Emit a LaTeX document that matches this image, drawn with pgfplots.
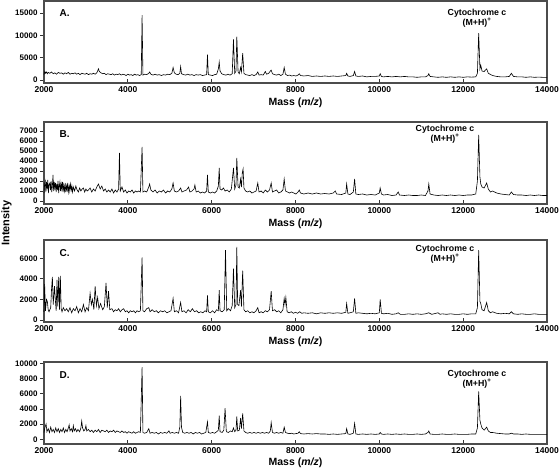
\documentclass[border=0pt]{standalone}
\usepackage{pgfplots}
\pgfplotsset{compat=1.18}
\usepackage{pgfplotstable}
\usepackage{fontspec}
\setmainfont{Liberation Sans}

\pgfplotstableread[row sep=\\]{
x y\\
2000 1200\\ 2020 1900\\ 2040 1500\\ 2060 1800\\ 2080 1400\\ 2100 1700\\ 2140 1500\\ 2180 1800\\ 2220 1400\\ 2260 1600\\
2300 1300\\ 2340 1700\\ 2380 1500\\ 2420 1600\\ 2460 1300\\ 2500 1600\\ 2540 1400\\ 2580 1700\\ 2620 1300\\ 2660 1500\\
2700 1400\\ 2740 1600\\ 2780 1300\\ 2820 1500\\ 2860 1200\\ 2900 1500\\ 2940 1400\\ 2980 1300\\ 3020 1500\\ 3060 1200\\
3100 1400\\ 3140 1300\\ 3180 1500\\ 3220 1300\\ 3260 1600\\ 3300 2500\\ 3320 1900\\ 3360 1600\\ 3400 1400\\ 3440 1500\\
3480 1200\\ 3520 1400\\ 3560 1300\\ 3600 1200\\ 3640 1400\\ 3680 1100\\ 3720 1300\\ 3760 1200\\ 3800 1400\\ 3840 1100\\
3880 1300\\ 3920 1200\\ 3960 1000\\ 4000 1300\\ 4040 1100\\ 4080 1200\\ 4120 1000\\ 4160 1300\\ 4200 1100\\ 4240 1200\\
4280 1000\\ 4320 1200\\ 4340 14500\\ 4360 1100\\ 4400 1300\\ 4450 1200\\ 4500 1500\\ 4520 1800\\ 4550 1300\\ 4600 1100\\
4650 1300\\ 4700 1100\\ 4750 1200\\ 4800 1000\\ 4850 1200\\ 4900 1100\\ 4950 1300\\ 5000 1200\\ 5050 1500\\ 5080 2800\\
5110 1600\\ 5150 1300\\ 5200 1200\\ 5240 1500\\ 5260 3000\\ 5280 1400\\ 5330 1200\\ 5380 1100\\ 5430 1300\\ 5480 1100\\
5530 1200\\ 5580 1000\\ 5630 1200\\ 5680 1100\\ 5730 1200\\ 5780 1000\\ 5830 1100\\ 5880 1200\\ 5900 5700\\ 5920 1200\\
5970 1100\\ 6020 1000\\ 6070 1200\\ 6120 1300\\ 6160 2500\\ 6180 4000\\ 6200 2000\\ 6240 1400\\ 6290 1200\\ 6340 1100\\
6390 1300\\ 6440 1100\\ 6490 1400\\ 6520 9100\\ 6550 1500\\ 6580 2000\\ 6600 9700\\ 6630 1800\\ 6660 1400\\ 6690 2800\\
6710 1800\\ 6740 6000\\ 6770 1500\\ 6810 1200\\ 6860 1100\\ 6910 1000\\ 6960 1200\\ 7010 1000\\ 7060 1200\\ 7100 1800\\
7130 1100\\ 7180 1200\\ 7230 1100\\ 7280 1900\\ 7310 1300\\ 7360 1500\\ 7400 2000\\ 7420 2200\\ 7450 1400\\ 7500 1200\\
7550 1100\\ 7600 1300\\ 7650 1000\\ 7700 1300\\ 7730 2800\\ 7760 1300\\ 7810 1000\\ 7860 1100\\ 7910 900\\ 7960 1000\\
8010 900\\ 8060 1100\\ 8090 1400\\ 8120 1000\\ 8200 900\\ 8300 1000\\ 8400 800\\ 8500 900\\ 8600 800\\ 8700 900\\
8800 800\\ 8900 900\\ 9000 800\\ 9100 900\\ 9200 1000\\ 9220 1500\\ 9250 900\\ 9300 800\\ 9380 1000\\ 9410 1900\\
9440 900\\ 9500 800\\ 9600 900\\ 9700 700\\ 9800 800\\ 9900 800\\ 10000 900\\ 10020 1400\\ 10050 800\\ 10100 700\\
10200 800\\ 10300 700\\ 10400 800\\ 10500 700\\ 10600 800\\ 10700 700\\ 10800 700\\ 10900 600\\ 11000 700\\ 11100 700\\
11160 1000\\ 11180 1400\\ 11210 800\\ 11300 700\\ 11400 600\\ 11500 700\\ 11600 600\\ 11700 700\\ 11800 600\\ 11900 700\\
12000 600\\ 12100 700\\ 12200 650\\ 12300 700\\ 12340 1500\\ 12370 10500\\ 12400 2500\\ 12420 3300\\ 12450 2000\\ 12500 1900\\
12560 2500\\ 12600 1500\\ 12700 1000\\ 12800 800\\ 12900 700\\ 13000 700\\ 13100 800\\ 13150 1500\\ 13200 800\\ 13300 700\\
13400 700\\ 13500 600\\ 13600 700\\ 13700 600\\ 13800 650\\ 13900 600\\ 14000 600\\
}\dataA

\pgfplotstableread[row sep=\\]{
x y\\
2000 800\\ 2015 1700\\ 2030 2000\\ 2045 900\\ 2060 1900\\ 2075 1200\\ 2090 2100\\ 2105 800\\ 2120 1600\\ 2140 1800\\
2155 1100\\ 2170 2000\\ 2185 900\\ 2200 1500\\ 2215 2600\\ 2230 1000\\ 2245 1900\\ 2260 1300\\ 2275 1800\\ 2290 900\\
2305 1700\\ 2320 1100\\ 2335 2000\\ 2350 800\\ 2365 1500\\ 2380 1900\\ 2395 1000\\ 2410 1700\\ 2425 1200\\ 2440 1900\\
2455 900\\ 2470 1600\\ 2490 1000\\ 2505 1800\\ 2520 900\\ 2535 1500\\ 2550 1100\\ 2565 1800\\ 2580 900\\ 2600 1500\\
2615 1000\\ 2630 1700\\ 2650 1100\\ 2665 1500\\ 2680 900\\ 2700 1400\\ 2730 1000\\ 2760 1500\\ 2790 1100\\ 2820 900\\
2850 1300\\ 2880 1000\\ 2910 1200\\ 2940 1300\\ 2970 900\\ 3000 1200\\ 3030 1000\\ 3060 1100\\ 3100 1300\\ 3140 900\\
3180 1200\\ 3220 1000\\ 3260 1400\\ 3300 1700\\ 3340 1200\\ 3380 1500\\ 3420 1000\\ 3460 1200\\ 3500 900\\ 3540 1100\\
3580 900\\ 3620 1200\\ 3660 800\\ 3700 1100\\ 3740 900\\ 3780 1200\\ 3800 4800\\ 3820 1000\\ 3860 1400\\ 3900 900\\
3940 1100\\ 3980 800\\ 4020 1000\\ 4060 900\\ 4100 1100\\ 4140 800\\ 4180 1000\\ 4220 900\\ 4260 1000\\ 4300 900\\
4340 5400\\ 4360 900\\ 4400 1000\\ 4450 900\\ 4500 1400\\ 4520 1700\\ 4550 1100\\ 4600 900\\ 4650 1100\\ 4700 800\\
4750 1000\\ 4800 900\\ 4850 1100\\ 4900 800\\ 4950 1000\\ 5000 900\\ 5050 1200\\ 5080 1800\\ 5110 1000\\ 5160 900\\
5210 1000\\ 5260 1300\\ 5290 900\\ 5340 1000\\ 5400 1100\\ 5450 1400\\ 5480 900\\ 5530 1000\\ 5580 1200\\ 5600 1600\\
5630 900\\ 5680 1000\\ 5730 800\\ 5780 900\\ 5830 800\\ 5880 1000\\ 5900 2600\\ 5920 900\\ 5970 800\\ 6020 900\\
6070 800\\ 6120 1000\\ 6160 1500\\ 6180 3300\\ 6200 1200\\ 6240 1100\\ 6280 1300\\ 6320 1000\\ 6370 1100\\ 6420 900\\
6470 1200\\ 6520 3300\\ 6550 1200\\ 6580 1600\\ 6600 4300\\ 6630 1400\\ 6660 1300\\ 6690 2200\\ 6710 1400\\ 6730 2800\\
6750 3200\\ 6770 1300\\ 6810 1000\\ 6860 900\\ 6910 1000\\ 6960 800\\ 7010 900\\ 7060 1000\\ 7100 1800\\ 7130 900\\
7180 1000\\ 7230 800\\ 7280 1100\\ 7330 900\\ 7380 1100\\ 7420 1800\\ 7450 900\\ 7500 1000\\ 7550 1100\\ 7600 800\\
7650 900\\ 7700 1100\\ 7730 2200\\ 7760 1000\\ 7810 900\\ 7860 800\\ 7910 900\\ 7960 800\\ 8010 700\\ 8060 900\\
8090 1100\\ 8120 800\\ 8200 700\\ 8300 800\\ 8400 700\\ 8500 800\\ 8600 700\\ 8700 750\\ 8800 700\\ 8900 800\\
8950 1000\\ 8980 700\\ 9100 650\\ 9200 800\\ 9220 1700\\ 9250 700\\ 9300 650\\ 9380 900\\ 9410 2200\\ 9440 700\\
9500 650\\ 9600 700\\ 9700 600\\ 9800 650\\ 9900 600\\ 10000 800\\ 10020 1300\\ 10050 700\\ 10100 600\\ 10200 650\\
10300 550\\ 10400 600\\ 10450 900\\ 10480 600\\ 10600 550\\ 10700 600\\ 10800 550\\ 10900 550\\ 11000 600\\ 11100 550\\
11160 1000\\ 11180 1700\\ 11210 700\\ 11300 600\\ 11400 550\\ 11500 600\\ 11600 550\\ 11700 600\\ 11800 550\\ 11900 600\\
12000 550\\ 12100 600\\ 12200 600\\ 12300 700\\ 12340 2000\\ 12370 6600\\ 12400 2400\\ 12420 1700\\ 12450 1400\\ 12500 1300\\
12560 1800\\ 12600 1200\\ 12650 900\\ 12700 1000\\ 12800 800\\ 12900 700\\ 13000 650\\ 13100 600\\ 13150 900\\ 13200 650\\
13300 600\\ 13400 600\\ 13500 550\\ 13600 600\\ 13700 550\\ 13800 600\\ 13900 550\\ 14000 550\\
}\dataB

\pgfplotstableread[row sep=\\]{
x y\\
2000 800\\ 2015 3500\\ 2035 900\\ 2060 2000\\ 2080 1800\\ 2100 1000\\ 2120 800\\ 2160 1200\\ 2180 3000\\ 2200 4200\\
2220 1500\\ 2250 3300\\ 2270 2000\\ 2290 900\\ 2310 3900\\ 2330 1300\\ 2350 4200\\ 2370 1000\\ 2390 4300\\ 2410 1100\\
2430 800\\ 2460 1200\\ 2500 900\\ 2540 1100\\ 2580 800\\ 2620 1200\\ 2660 700\\ 2700 1100\\ 2740 900\\ 2780 1300\\
2820 700\\ 2860 1100\\ 2900 800\\ 2940 1500\\ 2980 800\\ 3020 1200\\ 3060 900\\ 3100 2600\\ 3130 1500\\ 3160 2000\\
3190 1000\\ 3220 3300\\ 3250 1400\\ 3280 2200\\ 3310 1100\\ 3350 1600\\ 3400 1000\\ 3440 1300\\ 3480 3600\\ 3510 1200\\
3540 2800\\ 3570 1000\\ 3620 1100\\ 3660 800\\ 3700 1000\\ 3740 900\\ 3780 1100\\ 3820 800\\ 3860 1000\\ 3900 1100\\
3940 800\\ 3980 900\\ 4020 700\\ 4060 900\\ 4100 800\\ 4140 900\\ 4180 700\\ 4220 900\\ 4260 800\\ 4300 900\\
4340 6100\\ 4360 900\\ 4400 800\\ 4450 1100\\ 4500 1200\\ 4530 800\\ 4580 1000\\ 4630 800\\ 4680 900\\ 4730 700\\
4780 900\\ 4830 800\\ 4880 900\\ 4930 700\\ 4980 800\\ 5030 900\\ 5080 2100\\ 5110 800\\ 5160 900\\ 5210 700\\
5260 1700\\ 5290 800\\ 5340 900\\ 5390 700\\ 5440 1000\\ 5490 800\\ 5540 1100\\ 5590 800\\ 5640 900\\ 5690 700\\
5740 800\\ 5790 700\\ 5840 900\\ 5880 800\\ 5900 2400\\ 5920 800\\ 5970 700\\ 6020 900\\ 6070 700\\ 6120 1000\\
6160 900\\ 6180 2900\\ 6200 900\\ 6250 800\\ 6300 1000\\ 6330 6800\\ 6360 900\\ 6400 1100\\ 6450 900\\ 6490 1400\\
6520 5000\\ 6550 1200\\ 6580 1500\\ 6600 7100\\ 6620 1500\\ 6650 1400\\ 6690 2900\\ 6710 1300\\ 6740 4800\\ 6770 1000\\
6810 800\\ 6860 900\\ 6910 700\\ 6960 800\\ 7010 700\\ 7060 900\\ 7100 1200\\ 7130 700\\ 7180 800\\ 7230 700\\
7280 900\\ 7330 800\\ 7380 1000\\ 7420 2800\\ 7450 900\\ 7500 1000\\ 7550 800\\ 7600 900\\ 7650 700\\ 7700 1000\\
7730 2100\\ 7750 1500\\ 7770 2200\\ 7800 800\\ 7850 700\\ 7900 800\\ 7950 650\\ 8000 750\\ 8050 650\\ 8100 800\\
8150 650\\ 8200 700\\ 8300 650\\ 8400 700\\ 8500 600\\ 8600 700\\ 8700 650\\ 8800 700\\ 8900 650\\ 9000 700\\
9100 650\\ 9200 750\\ 9220 1600\\ 9250 650\\ 9300 700\\ 9380 800\\ 9410 2100\\ 9440 650\\ 9500 700\\ 9600 650\\
9700 600\\ 9800 650\\ 9900 600\\ 10000 700\\ 10020 2000\\ 10050 650\\ 10100 600\\ 10200 650\\ 10300 550\\ 10400 600\\
10450 700\\ 10500 550\\ 10600 550\\ 10700 600\\ 10800 550\\ 10900 600\\ 11000 550\\ 11100 600\\ 11180 700\\ 11250 550\\
11300 600\\ 11400 700\\ 11450 550\\ 11500 600\\ 11600 550\\ 11700 600\\ 11800 550\\ 11900 550\\ 12000 600\\ 12100 550\\
12200 600\\ 12300 600\\ 12340 1200\\ 12370 6800\\ 12400 1800\\ 12420 1600\\ 12450 1000\\ 12500 900\\ 12560 1700\\ 12600 900\\
12650 700\\ 12700 800\\ 12800 650\\ 12900 600\\ 13000 650\\ 13100 600\\ 13150 800\\ 13200 600\\ 13300 550\\ 13400 600\\
13500 550\\ 13600 550\\ 13700 600\\ 13800 550\\ 13900 550\\ 14000 550\\
}\dataC

\pgfplotstableread[row sep=\\]{
x y\\
2000 900\\ 2020 1500\\ 2050 2000\\ 2070 1000\\ 2100 1400\\ 2130 900\\ 2160 1600\\ 2190 1000\\ 2220 1300\\ 2250 900\\
2280 1500\\ 2310 1000\\ 2340 1400\\ 2370 900\\ 2400 1300\\ 2430 1000\\ 2460 1500\\ 2490 900\\ 2520 1300\\ 2550 1000\\
2580 1500\\ 2600 1900\\ 2620 1100\\ 2650 1400\\ 2680 1000\\ 2700 1800\\ 2720 1100\\ 2750 1400\\ 2780 1000\\ 2810 1300\\
2850 1000\\ 2880 1500\\ 2900 2400\\ 2920 1500\\ 2950 1100\\ 2980 1300\\ 3000 1800\\ 3020 1100\\ 3060 1300\\ 3100 1000\\
3140 1200\\ 3180 900\\ 3220 1200\\ 3260 1000\\ 3300 1300\\ 3340 900\\ 3380 1200\\ 3420 1100\\ 3460 1000\\ 3500 1200\\
3540 900\\ 3580 1100\\ 3620 1000\\ 3660 1200\\ 3700 900\\ 3740 1100\\ 3780 1000\\ 3820 900\\ 3860 1100\\ 3900 900\\
3940 1000\\ 3980 800\\ 4020 1000\\ 4060 900\\ 4100 800\\ 4140 1000\\ 4180 800\\ 4220 900\\ 4260 1000\\ 4300 900\\
4340 9500\\ 4360 900\\ 4400 800\\ 4450 900\\ 4500 1400\\ 4530 800\\ 4580 900\\ 4630 800\\ 4680 900\\ 4730 700\\
4780 900\\ 4830 800\\ 4880 900\\ 4930 800\\ 4980 1100\\ 5010 800\\ 5060 900\\ 5110 800\\ 5160 900\\ 5210 800\\
5240 1600\\ 5260 5700\\ 5280 1600\\ 5310 900\\ 5360 800\\ 5410 900\\ 5460 800\\ 5510 900\\ 5560 700\\ 5610 900\\
5660 800\\ 5710 900\\ 5760 700\\ 5810 800\\ 5860 900\\ 5900 2300\\ 5920 900\\ 5970 800\\ 6020 900\\ 6070 800\\
6120 1000\\ 6160 1200\\ 6180 3100\\ 6200 1000\\ 6250 900\\ 6290 1200\\ 6320 4100\\ 6350 1000\\ 6400 900\\ 6450 1100\\
6490 1000\\ 6520 1500\\ 6550 1000\\ 6580 1200\\ 6600 3000\\ 6620 1100\\ 6660 1200\\ 6690 2800\\ 6710 1400\\ 6740 3400\\
6770 1100\\ 6810 900\\ 6860 800\\ 6910 900\\ 6960 800\\ 7010 900\\ 7060 800\\ 7110 900\\ 7160 800\\ 7210 900\\
7260 800\\ 7310 900\\ 7360 800\\ 7400 1100\\ 7420 2200\\ 7450 900\\ 7500 800\\ 7550 900\\ 7600 800\\ 7650 900\\
7700 800\\ 7730 1600\\ 7760 900\\ 7810 800\\ 7860 750\\ 7910 800\\ 7960 700\\ 8010 750\\ 8060 800\\ 8090 1000\\
8120 750\\ 8200 700\\ 8300 750\\ 8400 700\\ 8500 750\\ 8600 700\\ 8700 700\\ 8800 650\\ 8900 700\\ 9000 650\\
9100 700\\ 9200 750\\ 9220 1400\\ 9250 700\\ 9300 650\\ 9380 800\\ 9410 2100\\ 9440 700\\ 9500 650\\ 9600 700\\
9700 650\\ 9800 700\\ 9900 650\\ 10000 700\\ 10020 900\\ 10050 700\\ 10100 650\\ 10200 700\\ 10300 650\\ 10400 700\\
10500 650\\ 10600 700\\ 10700 650\\ 10800 650\\ 10900 700\\ 11000 650\\ 11100 700\\ 11160 900\\ 11180 1100\\ 11210 700\\
11300 650\\ 11400 650\\ 11500 700\\ 11600 650\\ 11700 650\\ 11800 700\\ 11900 650\\ 12000 650\\ 12100 650\\ 12200 700\\
12300 700\\ 12340 1500\\ 12370 6300\\ 12400 2500\\ 12420 2000\\ 12450 1500\\ 12500 1200\\ 12560 1600\\ 12600 1100\\ 12650 900\\
12700 900\\ 12800 800\\ 12900 750\\ 13000 700\\ 13100 700\\ 13150 800\\ 13200 700\\ 13300 700\\ 13400 650\\ 13500 700\\
13600 650\\ 13700 650\\ 13800 650\\ 13900 650\\ 14000 650\\
}\dataD

\pgfplotsset{
  spec/.style={
    scale only axis, width=503pt, height=82pt,
    anchor=north west, clip=false,
    xmin=2000, xmax=14000, xtick={2000,4000,...,14000},
    tick align=inside, xtick pos=bottom, ytick pos=left,
    major tick length=4pt,
    ytick style={xshift=-4pt},
    yticklabel style={xshift=-3pt, font=\bfseries\fontsize{8}{9}\selectfont},
    xticklabel style={font=\bfseries\fontsize{8.5}{9}\selectfont},
    /pgf/number format/assume math mode=true,
    /pgf/number format/1000 sep={},
    scaled y ticks=false, scaled x ticks=false,
    axis line style={line width=1.2pt, black!70},
    every tick/.style={black!80, line width=0.8pt},
  },
}
\tikzset{
  lett/.style={font=\bfseries\fontsize{10}{12}\selectfont, anchor=west, xshift=12pt},
  cyt/.style={font=\bfseries\fontsize{8.8}{10}\selectfont, align=center},
  masslab/.style={font=\bfseries\fontsize{10.5}{12}\selectfont, yshift=-20pt},
}

\begin{document}
\begin{tikzpicture}
\path[use as bounding box] (0,0) rectangle (560pt,-471pt);

\begin{axis}[spec, at={(44pt,-1pt)}, ymin=-672, ymax=17687, ytick={0,5000,10000,15000}]
\addplot[black, line width=0.6pt] table {\dataA};
\node[lett] at (rel axis cs:0,1) [yshift=-12pt] {A.};
\node[cyt] at (rel axis cs:0,1) [xshift=433pt, yshift=-17.5pt] {Cytochrome c\\(M+H)\textsuperscript{+}};
\node[masslab] at (rel axis cs:0.5,0) {Mass (\textit{m/z})};
\end{axis}

\begin{axis}[spec, at={(44pt,-122pt)}, ymin=-300, ymax=7900, ytick={0,1000,...,7000}]
\addplot[black, line width=0.6pt] table {\dataB};
\node[lett] at (rel axis cs:0,1) [yshift=-12pt] {B.};
\node[cyt] at (rel axis cs:0,1) [xshift=401pt, yshift=-12pt] {Cytochrome c\\(M+H)\textsuperscript{+}};
\node[masslab] at (rel axis cs:0.5,0) {Mass (\textit{m/z})};
\end{axis}

\begin{axis}[spec, at={(44pt,-240pt)}, ymin=-195, ymax=7780, ytick={0,2000,4000,6000}]
\addplot[black, line width=0.6pt] table {\dataC};
\node[lett] at (rel axis cs:0,1) [yshift=-13pt] {C.};
\node[cyt] at (rel axis cs:0,1) [xshift=401pt, yshift=-14pt] {Cytochrome c\\(M+H)\textsuperscript{+}};
\node[masslab] at (rel axis cs:0.5,0) {Mass (\textit{m/z})};
\end{axis}

\begin{axis}[spec, at={(44pt,-362pt)}, ymin=-618, ymax=10171, ytick={0,2000,...,10000}]
\addplot[black, line width=0.6pt] table {\dataD};
\node[lett] at (rel axis cs:0,1) [yshift=-13pt] {D.};
\node[cyt] at (rel axis cs:0,1) [xshift=433pt, yshift=-17.5pt] {Cytochrome c\\(M+H)\textsuperscript{+}};
\node[masslab] at (rel axis cs:0.5,0) [yshift=1pt] {Mass (\textit{m/z})};
\end{axis}

\node[rotate=90, font=\bfseries\fontsize{11}{13}\selectfont] at (6.5pt,-223pt) {Intensity};
\end{tikzpicture}
\end{document}
